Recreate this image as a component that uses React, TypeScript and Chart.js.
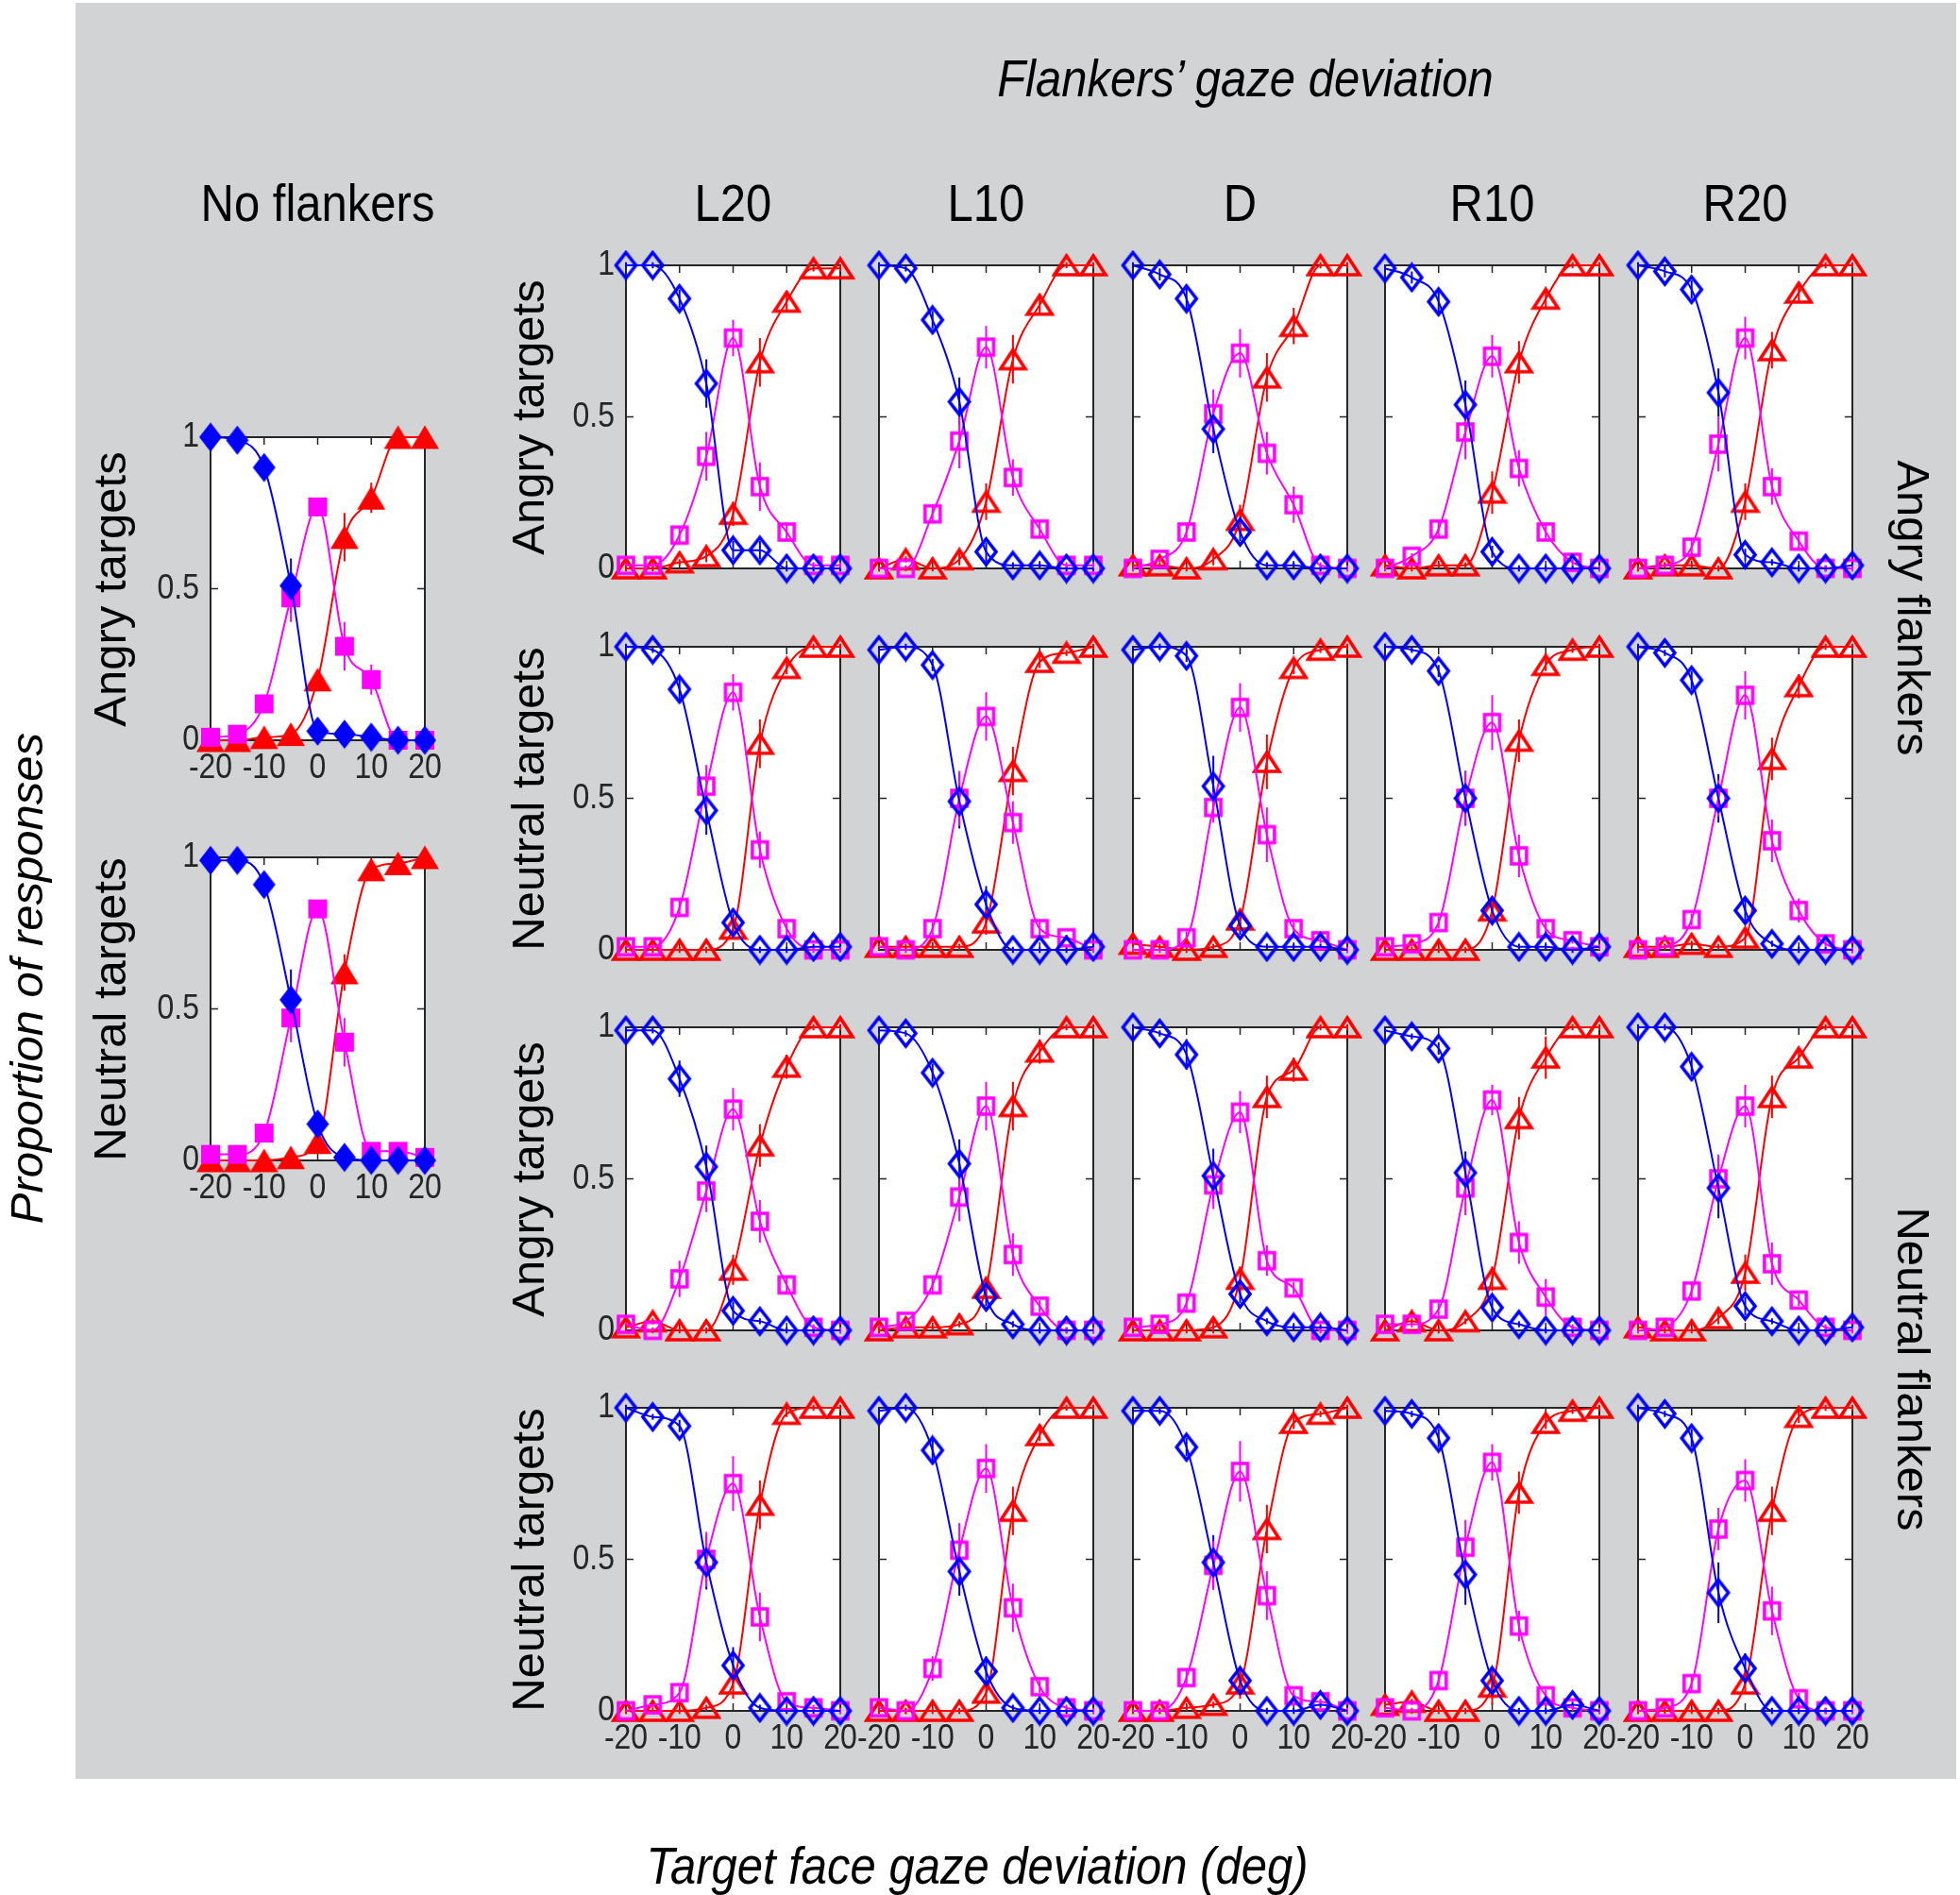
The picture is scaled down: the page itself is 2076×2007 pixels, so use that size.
import React, { useEffect, useRef } from 'react';
import { Chart, registerables } from 'chart.js';

Chart.register(...registerables);

const FONT = '"Liberation Sans", Arial, Helvetica, sans-serif';
const INK = '#262626';
const BLUE = '#0000FF';
const MAGENTA = '#FF00FF';
const RED = '#FF0000';

// target gaze deviation (deg) for every point
const gazeDeg = [-20, -15, -10, -5, 0, 5, 10, 15, 20];
const xTickValues = [-20, -10, 0, 10, 20];
const yTickValues = [0, 0.5, 1];
const flankerGaze = ['L20', 'L10', 'D', 'R10', 'R20'];

// --- no flankers: proportion of "left" (blue), "direct" (magenta), "right" (red) responses
const noFlkAngryLeft = [1.0, 0.99, 0.9, 0.51, 0.03, 0.02, 0.01, 0, 0];
const noFlkAngryDirect = [0.01, 0.02, 0.12, 0.47, 0.77, 0.31, 0.2, 0, 0];
const noFlkAngryRight = [0, 0, 0.01, 0.02, 0.2, 0.67, 0.8, 1.0, 1.0];
const noFlkAngryLeftErr = [0.01, 0.01, 0.02, 0.09, 0.01, 0.01, 0.01, 0.01, 0.01];
const noFlkAngryDirectErr = [0.01, 0.01, 0.03, 0.08, 0.03, 0.08, 0.05, 0.01, 0.01];
const noFlkAngryRightErr = [0.01, 0.01, 0.01, 0.01, 0.03, 0.08, 0.05, 0.01, 0.01];

const noFlkNeutralLeft = [0.99, 0.99, 0.91, 0.53, 0.12, 0.01, 0, 0, 0];
const noFlkNeutralDirect = [0.02, 0.02, 0.09, 0.47, 0.83, 0.39, 0.03, 0.03, 0.01];
const noFlkNeutralRight = [0, 0, 0, 0.01, 0.06, 0.62, 0.96, 0.98, 1.0];
const noFlkNeutralLeftErr = [0.01, 0.01, 0.02, 0.1, 0.02, 0.01, 0.01, 0.01, 0.01];
const noFlkNeutralDirectErr = [0.01, 0.01, 0.02, 0.08, 0.03, 0.08, 0.01, 0.01, 0.01];
const noFlkNeutralRightErr = [0.01, 0.01, 0.01, 0.01, 0.02, 0.06, 0.01, 0.01, 0.01];

// --- angry flankers, angry targets (one row per flanker gaze L20..R20)
const angryAngryLeft = [
  [1.0, 1.0, 0.89, 0.61, 0.06, 0.06, 0, 0, 0],
  [1.0, 0.99, 0.82, 0.55, 0.055, 0.01, 0.01, 0, 0],
  [1.0, 0.97, 0.89, 0.46, 0.12, 0.01, 0.01, 0, 0],
  [0.99, 0.96, 0.88, 0.54, 0.055, 0, 0, 0, 0],
  [1.0, 0.98, 0.92, 0.58, 0.045, 0.02, 0, 0, 0.01],
];
const angryAngryDirect = [
  [0.01, 0.01, 0.11, 0.37, 0.76, 0.27, 0.12, 0.01, 0.01],
  [0, 0, 0.18, 0.42, 0.73, 0.3, 0.13, 0.01, 0.01],
  [0, 0.03, 0.12, 0.51, 0.71, 0.38, 0.21, 0.01, 0],
  [0, 0.04, 0.13, 0.45, 0.7, 0.33, 0.12, 0.02, 0],
  [0, 0.01, 0.07, 0.41, 0.76, 0.27, 0.09, 0, 0],
];
const angryAngryRight = [
  [0, 0, 0.02, 0.04, 0.18, 0.68, 0.88, 0.99, 0.99],
  [0, 0.03, 0, 0.03, 0.22, 0.69, 0.87, 1.0, 1.0],
  [0.01, 0.01, 0, 0.03, 0.16, 0.63, 0.8, 1.0, 1.0],
  [0.01, 0, 0.01, 0.01, 0.25, 0.68, 0.89, 1.0, 1.0],
  [0, 0.01, 0.01, 0, 0.22, 0.72, 0.91, 1.0, 1.0],
];
const angryAngryLeftErr = [
  [0.01, 0.01, 0.03, 0.08, 0.03, 0.03, 0.01, 0.01, 0.01],
  [0.01, 0.01, 0.03, 0.08, 0.03, 0.01, 0.01, 0.01, 0.01],
  [0.01, 0.02, 0.04, 0.08, 0.03, 0.01, 0.01, 0.01, 0.01],
  [0.01, 0.02, 0.04, 0.08, 0.02, 0.01, 0.01, 0.01, 0.01],
  [0.01, 0.02, 0.03, 0.08, 0.02, 0.01, 0.01, 0.01, 0.01],
];
const angryAngryDirectErr = [
  [0.01, 0.01, 0.03, 0.08, 0.06, 0.08, 0.03, 0.01, 0.01],
  [0.01, 0.01, 0.03, 0.09, 0.07, 0.06, 0.03, 0.01, 0.01],
  [0.01, 0.01, 0.03, 0.08, 0.08, 0.07, 0.06, 0.01, 0.01],
  [0.01, 0.01, 0.03, 0.09, 0.07, 0.06, 0.03, 0.01, 0.01],
  [0.01, 0.01, 0.03, 0.09, 0.07, 0.06, 0.03, 0.01, 0.01],
];
const angryAngryRightErr = [
  [0.01, 0.01, 0.01, 0.02, 0.04, 0.08, 0.03, 0.01, 0.01],
  [0.01, 0.01, 0.01, 0.02, 0.06, 0.08, 0.03, 0.01, 0.01],
  [0.01, 0.01, 0.01, 0.02, 0.05, 0.08, 0.06, 0.01, 0.01],
  [0.01, 0.01, 0.01, 0.01, 0.07, 0.07, 0.03, 0.01, 0.01],
  [0.01, 0.01, 0.01, 0.01, 0.06, 0.06, 0.03, 0.01, 0.01],
];

// --- angry flankers, neutral targets
const angryNeutralLeft = [
  [1.0, 0.99, 0.86, 0.46, 0.09, 0, 0, 0.01, 0.01],
  [0.99, 1.0, 0.94, 0.49, 0.15, 0, 0, 0, 0.01],
  [0.99, 1.0, 0.97, 0.54, 0.08, 0.01, 0.01, 0.01, 0],
  [1.0, 0.99, 0.92, 0.5, 0.13, 0.01, 0.01, 0, 0.01],
  [1.0, 0.98, 0.89, 0.5, 0.13, 0.02, 0, 0, 0],
];
const angryNeutralDirect = [
  [0.01, 0.01, 0.14, 0.54, 0.85, 0.33, 0.07, 0, 0],
  [0.01, 0, 0.07, 0.5, 0.77, 0.42, 0.07, 0.04, 0],
  [0, 0, 0.04, 0.47, 0.8, 0.38, 0.07, 0.03, 0],
  [0.01, 0.02, 0.09, 0.5, 0.75, 0.31, 0.07, 0.03, 0.01],
  [0, 0.01, 0.1, 0.5, 0.84, 0.36, 0.13, 0.02, 0],
];
const angryNeutralRight = [
  [0, 0, 0, 0, 0.07, 0.68, 0.93, 1.0, 1.0],
  [0.01, 0.01, 0.01, 0.01, 0.09, 0.59, 0.95, 0.98, 1.0],
  [0.02, 0.01, 0, 0.01, 0.1, 0.62, 0.93, 0.99, 1.0],
  [0, 0, 0, 0, 0.13, 0.69, 0.94, 0.99, 1.0],
  [0.01, 0.01, 0.02, 0.01, 0.04, 0.63, 0.87, 1.0, 1.0],
];
const angryNeutralLeftErr = [
  [0.01, 0.01, 0.04, 0.08, 0.03, 0.01, 0.01, 0.01, 0.01],
  [0.01, 0.01, 0.02, 0.09, 0.06, 0.01, 0.01, 0.01, 0.01],
  [0.01, 0.01, 0.02, 0.1, 0.03, 0.01, 0.01, 0.01, 0.01],
  [0.01, 0.01, 0.02, 0.09, 0.04, 0.01, 0.01, 0.01, 0.01],
  [0.01, 0.01, 0.03, 0.08, 0.04, 0.01, 0.01, 0.01, 0.01],
];
const angryNeutralDirectErr = [
  [0.01, 0.01, 0.03, 0.07, 0.06, 0.06, 0.02, 0.01, 0.01],
  [0.01, 0.01, 0.02, 0.09, 0.08, 0.07, 0.02, 0.01, 0.01],
  [0.01, 0.01, 0.02, 0.05, 0.08, 0.09, 0.02, 0.01, 0.01],
  [0.01, 0.01, 0.02, 0.09, 0.09, 0.07, 0.02, 0.01, 0.01],
  [0.01, 0.01, 0.02, 0.06, 0.08, 0.07, 0.04, 0.01, 0.01],
];
const angryNeutralRightErr = [
  [0.01, 0.01, 0.01, 0.01, 0.03, 0.08, 0.02, 0.01, 0.01],
  [0.01, 0.01, 0.01, 0.01, 0.04, 0.08, 0.02, 0.01, 0.01],
  [0.01, 0.01, 0.01, 0.01, 0.03, 0.09, 0.02, 0.01, 0.01],
  [0.01, 0.01, 0.01, 0.01, 0.03, 0.07, 0.02, 0.01, 0.01],
  [0.01, 0.01, 0.01, 0.01, 0.02, 0.07, 0.04, 0.01, 0.01],
];

// --- neutral flankers, angry targets
const neutralAngryLeft = [
  [0.99, 0.99, 0.83, 0.54, 0.065, 0.03, 0, 0, 0],
  [0.99, 0.98, 0.85, 0.55, 0.11, 0.02, 0, 0, 0],
  [1.0, 0.98, 0.91, 0.51, 0.12, 0.03, 0.01, 0.01, 0],
  [0.99, 0.97, 0.93, 0.52, 0.075, 0.02, 0, 0, 0],
  [1.0, 1.0, 0.87, 0.47, 0.08, 0.03, 0, 0, 0.01],
];
const neutralAngryDirect = [
  [0.02, 0, 0.17, 0.46, 0.73, 0.36, 0.15, 0.01, 0],
  [0.01, 0.03, 0.15, 0.44, 0.74, 0.25, 0.08, 0, 0],
  [0.01, 0.02, 0.09, 0.48, 0.72, 0.23, 0.14, 0, 0],
  [0.02, 0.02, 0.07, 0.47, 0.76, 0.29, 0.11, 0.01, 0],
  [0, 0.01, 0.13, 0.5, 0.74, 0.22, 0.1, 0.01, 0],
];
const neutralAngryRight = [
  [0.01, 0.03, 0, 0, 0.2, 0.61, 0.87, 1.0, 1.0],
  [0, 0.01, 0.01, 0.02, 0.14, 0.74, 0.92, 1.0, 1.0],
  [0, 0, 0, 0.01, 0.17, 0.77, 0.86, 1.0, 1.0],
  [0, 0.03, 0, 0.03, 0.17, 0.7, 0.9, 1.0, 1.0],
  [0.01, 0, 0, 0.04, 0.19, 0.77, 0.9, 1.0, 1.0],
];
const neutralAngryLeftErr = [
  [0.01, 0.01, 0.06, 0.07, 0.03, 0.01, 0.01, 0.01, 0.01],
  [0.01, 0.01, 0.03, 0.08, 0.03, 0.01, 0.01, 0.01, 0.01],
  [0.01, 0.01, 0.05, 0.09, 0.03, 0.01, 0.01, 0.01, 0.01],
  [0.01, 0.01, 0.02, 0.07, 0.03, 0.01, 0.01, 0.01, 0.01],
  [0.01, 0.01, 0.03, 0.1, 0.03, 0.01, 0.01, 0.01, 0.01],
];
const neutralAngryDirectErr = [
  [0.01, 0.01, 0.06, 0.07, 0.07, 0.07, 0.03, 0.01, 0.01],
  [0.01, 0.01, 0.03, 0.08, 0.08, 0.07, 0.02, 0.01, 0.01],
  [0.01, 0.01, 0.03, 0.08, 0.07, 0.05, 0.02, 0.01, 0.01],
  [0.01, 0.01, 0.02, 0.09, 0.05, 0.07, 0.06, 0.01, 0.01],
  [0.01, 0.01, 0.03, 0.08, 0.07, 0.07, 0.02, 0.01, 0.01],
];
const neutralAngryRightErr = [
  [0.01, 0.01, 0.01, 0.01, 0.05, 0.07, 0.04, 0.01, 0.01],
  [0.01, 0.01, 0.01, 0.01, 0.03, 0.08, 0.04, 0.01, 0.01],
  [0.01, 0.01, 0.01, 0.02, 0.04, 0.07, 0.04, 0.01, 0.01],
  [0.01, 0.01, 0.01, 0.01, 0.04, 0.07, 0.07, 0.01, 0.01],
  [0.01, 0.01, 0.01, 0.02, 0.06, 0.07, 0.03, 0.01, 0.01],
];

// --- neutral flankers, neutral targets
const neutralNeutralLeft = [
  [1.0, 0.97, 0.94, 0.49, 0.15, 0.01, 0, 0, 0],
  [0.99, 1.0, 0.86, 0.46, 0.13, 0.01, 0, 0, 0],
  [0.99, 0.99, 0.87, 0.49, 0.1, 0, 0, 0.02, 0],
  [0.99, 0.98, 0.9, 0.45, 0.1, 0, 0, 0.02, 0],
  [1.0, 0.98, 0.9, 0.39, 0.14, 0, 0, 0, 0],
];
const neutralNeutralDirect = [
  [0, 0.02, 0.06, 0.5, 0.75, 0.31, 0.03, 0.01, 0],
  [0.01, 0, 0.14, 0.53, 0.8, 0.34, 0.08, 0.01, 0],
  [0, 0, 0.11, 0.48, 0.79, 0.38, 0.05, 0.03, 0],
  [0.01, 0, 0.1, 0.54, 0.82, 0.28, 0.05, 0.01, 0],
  [0, 0.01, 0.09, 0.6, 0.76, 0.33, 0.04, 0, 0],
];
const neutralNeutralRight = [
  [0, 0, 0, 0.01, 0.09, 0.68, 0.98, 1.0, 1.0],
  [0, 0, 0, 0, 0.06, 0.66, 0.91, 1.0, 1.0],
  [0, 0, 0.01, 0.02, 0.09, 0.6, 0.95, 0.98, 1.0],
  [0.02, 0.03, 0, 0, 0.08, 0.72, 0.95, 0.99, 1.0],
  [0, 0, 0, 0, 0.09, 0.66, 0.97, 1.0, 1.0],
];
const neutralNeutralLeftErr = [
  [0.01, 0.01, 0.02, 0.09, 0.06, 0.01, 0.01, 0.01, 0.01],
  [0.01, 0.01, 0.04, 0.08, 0.05, 0.01, 0.01, 0.01, 0.01],
  [0.01, 0.01, 0.03, 0.09, 0.04, 0.01, 0.01, 0.01, 0.01],
  [0.01, 0.01, 0.03, 0.1, 0.03, 0.01, 0.01, 0.01, 0.01],
  [0.01, 0.01, 0.03, 0.1, 0.05, 0.01, 0.01, 0.01, 0.01],
];
const neutralNeutralDirectErr = [
  [0.01, 0.01, 0.02, 0.09, 0.09, 0.08, 0.01, 0.01, 0.01],
  [0.01, 0.01, 0.04, 0.09, 0.08, 0.08, 0.02, 0.01, 0.01],
  [0.01, 0.01, 0.03, 0.08, 0.1, 0.08, 0.02, 0.01, 0.01],
  [0.01, 0.01, 0.03, 0.09, 0.06, 0.05, 0.02, 0.01, 0.01],
  [0.01, 0.01, 0.03, 0.07, 0.07, 0.08, 0.02, 0.01, 0.01],
];
const neutralNeutralRightErr = [
  [0.01, 0.01, 0.01, 0.01, 0.05, 0.08, 0.01, 0.01, 0.01],
  [0.01, 0.01, 0.01, 0.01, 0.03, 0.08, 0.02, 0.01, 0.01],
  [0.01, 0.01, 0.01, 0.01, 0.05, 0.08, 0.02, 0.01, 0.01],
  [0.01, 0.01, 0.01, 0.01, 0.06, 0.07, 0.02, 0.01, 0.01],
  [0.01, 0.01, 0.01, 0.01, 0.03, 0.08, 0.02, 0.01, 0.01],
];

// panel geometry (px)
const BOX_W = 227;
const BOX_H = 321;
const PAD_L = 90;
const PAD_R = 30;
const PAD_T = 30;
const PAD_B = 30;
const PAD_B_TICKS = 70;
const TICK_LEN = 8;
const TICK_FONT = 32;
const TEXT_STRETCH = 1.15; // the printed figure is stretched vertically

const colLefts = [663, 931, 1200, 1467, 1735];
const rowTops = [281, 685, 1088, 1491];
const noFlkLeft = 223;
const noFlkTops = [463, 908];

type Shape = 'diamond' | 'square' | 'triangle';

function makeMarker(shape: Shape, color: string, filled: boolean, w: number, h: number, lw: number) {
  const c = document.createElement('canvas');
  c.width = Math.ceil(w + lw + 2);
  c.height = Math.ceil(h + lw + 2);
  const g = c.getContext('2d')!;
  const cx = c.width / 2;
  const cy = c.height / 2;
  g.beginPath();
  if (shape === 'diamond') {
    g.moveTo(cx, cy - h / 2);
    g.lineTo(cx + w / 2, cy);
    g.lineTo(cx, cy + h / 2);
    g.lineTo(cx - w / 2, cy);
  } else if (shape === 'square') {
    g.rect(cx - w / 2, cy - h / 2, w, h);
  } else {
    g.moveTo(cx, cy - h / 2);
    g.lineTo(cx + w / 2, cy + h / 2);
    g.lineTo(cx - w / 2, cy + h / 2);
  }
  g.closePath();
  if (filled) {
    g.fillStyle = color;
    g.fill();
  } else {
    g.strokeStyle = color;
    g.lineWidth = lw;
    g.lineJoin = 'miter';
    g.stroke();
  }
  return c;
}

type PanelProps = {
  left: number;
  top: number;
  leftResp: number[];
  directResp: number[];
  rightResp: number[];
  leftErr: number[];
  directErr: number[];
  rightErr: number[];
  filled: boolean;
  showX: boolean;
  showY: boolean;
};

const Panel: React.FC<PanelProps> = (p) => {
  const canvasRef = useRef<HTMLCanvasElement | null>(null);
  const padB = p.showX ? PAD_B_TICKS : PAD_B;
  const width = BOX_W + PAD_L + PAD_R;
  const height = BOX_H + PAD_T + padB;

  useEffect(() => {
    if (!canvasRef.current) return;

    const markers = p.filled
      ? [
          makeMarker('diamond', BLUE, true, 24, 31, 0),
          makeMarker('square', MAGENTA, true, 20, 20, 0),
          makeMarker('triangle', RED, true, 30, 25, 0),
        ]
      : [
          makeMarker('diamond', BLUE, false, 21, 27, 3.6),
          makeMarker('square', MAGENTA, false, 16, 17, 3.6),
          makeMarker('triangle', RED, false, 26, 20, 3.6),
        ];
    const values = [p.leftResp, p.directResp, p.rightResp];
    const errors = [p.leftErr, p.directErr, p.rightErr];
    const colors = [BLUE, MAGENTA, RED];

    const stretchedText = (ctx: CanvasRenderingContext2D, text: string, x: number, y: number) => {
      ctx.save();
      ctx.translate(x, y);
      ctx.scale(1, TEXT_STRETCH);
      ctx.fillText(text, 0, 0);
      ctx.restore();
    };

    const frame = {
      id: 'panelFrame',
      beforeDatasetsDraw(chart: any) {
        const { ctx, chartArea: a, scales } = chart;
        ctx.save();
        ctx.fillStyle = '#ffffff';
        ctx.fillRect(a.left, a.top, a.right - a.left, a.bottom - a.top);
        ctx.strokeStyle = INK;
        ctx.lineWidth = 2;
        ctx.strokeRect(a.left, a.top, a.right - a.left, a.bottom - a.top);
        ctx.lineWidth = 1.5;
        ctx.beginPath();
        xTickValues.slice(1, -1).forEach((v) => {
          const px = scales.x.getPixelForValue(v);
          ctx.moveTo(px, a.bottom);
          ctx.lineTo(px, a.bottom - TICK_LEN);
          ctx.moveTo(px, a.top);
          ctx.lineTo(px, a.top + TICK_LEN);
        });
        yTickValues.slice(1, -1).forEach((v) => {
          const py = scales.y.getPixelForValue(v);
          ctx.moveTo(a.left, py);
          ctx.lineTo(a.left + TICK_LEN, py);
          ctx.moveTo(a.right, py);
          ctx.lineTo(a.right - TICK_LEN, py);
        });
        ctx.stroke();

        // tick labels
        ctx.fillStyle = INK;
        ctx.font = `${TICK_FONT}px ${FONT}`;
        ctx.textBaseline = 'middle';
        if (p.showY) {
          ctx.textAlign = 'right';
          yTickValues.forEach((v) => stretchedText(ctx, String(v), a.left - 12, scales.y.getPixelForValue(v)));
        }
        if (p.showX) {
          ctx.textAlign = 'center';
          xTickValues.forEach((v) => stretchedText(ctx, String(v), scales.x.getPixelForValue(v), a.bottom + 30));
        }

        // vertical error bars
        ctx.lineWidth = 2;
        errors.forEach((errs, s) => {
          ctx.strokeStyle = colors[s];
          ctx.beginPath();
          gazeDeg.forEach((x, i) => {
            const px = scales.x.getPixelForValue(x);
            ctx.moveTo(px, scales.y.getPixelForValue(values[s][i] - errs[i]));
            ctx.lineTo(px, scales.y.getPixelForValue(values[s][i] + errs[i]));
          });
          ctx.stroke();
        });
        ctx.restore();
      },
    };

    const chart = new Chart(canvasRef.current, {
      type: 'line',
      data: {
        datasets: values.map((vals, s) => ({
          data: gazeDeg.map((x, i) => ({ x, y: vals[i] })),
          borderColor: colors[s],
          backgroundColor: colors[s],
          borderWidth: 2,
          pointStyle: markers[s] as any,
          pointRadius: 10,
          pointHoverRadius: 10,
          cubicInterpolationMode: 'monotone' as const,
          clip: false as any,
          fill: false,
        })),
      },
      options: {
        responsive: false,
        animation: false,
        events: [],
        layout: { padding: { left: 0, right: PAD_R, top: PAD_T, bottom: 0 } },
        plugins: { legend: { display: false }, tooltip: { enabled: false } },
        scales: {
          x: {
            type: 'linear',
            min: -20,
            max: 20,
            afterBuildTicks: (s: any) => {
              s.ticks = xTickValues.map((v) => ({ value: v }));
            },
            afterFit: (s: any) => {
              s.height = padB;
            },
            ticks: { display: false },
            grid: { display: false, drawTicks: false },
            border: { display: false },
          },
          y: {
            type: 'linear',
            min: 0,
            max: 1,
            afterBuildTicks: (s: any) => {
              s.ticks = yTickValues.map((v) => ({ value: v }));
            },
            afterFit: (s: any) => {
              s.width = PAD_L;
            },
            ticks: { display: false },
            grid: { display: false, drawTicks: false },
            border: { display: false },
          },
        },
      },
      plugins: [frame],
    });

    return () => {
      chart.destroy();
    };
  }, [p]);

  return (
    <canvas
      ref={canvasRef}
      width={width}
      height={height}
      style={{ position: 'absolute', left: p.left - PAD_L, top: p.top - PAD_T, width, height }}
    />
  );
};

type LabelProps = { x: number; y: number; text: string; rotate?: number; italic?: boolean };

const Label: React.FC<LabelProps> = ({ x, y, text, rotate = 0, italic = false }) => (
  <div
    style={{
      position: 'absolute',
      left: x,
      top: y,
      transform: rotate
        ? `translate(-50%, -50%) rotate(${rotate}deg)`
        : `translate(-50%, -50%) scaleY(1.12)`,
      whiteSpace: 'nowrap',
      fontSize: 49,
      lineHeight: 1,
      fontStyle: italic ? 'italic' : 'normal',
      color: '#000',
    }}
  >
    {text}
  </div>
);

const gridRows = [
  { name: 'Angry targets', left: angryAngryLeft, direct: angryAngryDirect, right: angryAngryRight, le: angryAngryLeftErr, de: angryAngryDirectErr, re: angryAngryRightErr },
  { name: 'Neutral targets', left: angryNeutralLeft, direct: angryNeutralDirect, right: angryNeutralRight, le: angryNeutralLeftErr, de: angryNeutralDirectErr, re: angryNeutralRightErr },
  { name: 'Angry targets', left: neutralAngryLeft, direct: neutralAngryDirect, right: neutralAngryRight, le: neutralAngryLeftErr, de: neutralAngryDirectErr, re: neutralAngryRightErr },
  { name: 'Neutral targets', left: neutralNeutralLeft, direct: neutralNeutralDirect, right: neutralNeutralRight, le: neutralNeutralLeftErr, de: neutralNeutralDirectErr, re: neutralNeutralRightErr },
];

export default function App() {
  return (
    <div
      style={{
        position: 'absolute',
        left: 0,
        top: 0,
        width: 2076,
        height: 2007,
        background: '#ffffff',
        overflow: 'hidden',
        fontFamily: FONT,
      }}
    >
      <div style={{ position: 'absolute', left: 80, top: 3, width: 1992, height: 1881, background: '#D1D3D4' }} />

      <Label x={1319} y={84} text="Flankers’ gaze deviation" italic />
      <Label x={noFlkLeft + BOX_W / 2} y={216} text="No flankers" />
      {flankerGaze.map((g, c) => (
        <Label key={g} x={colLefts[c] + BOX_W / 2} y={216} text={g} />
      ))}

      <Label x={116} y={noFlkTops[0] + BOX_H / 2} text="Angry targets" rotate={-90} />
      <Label x={116} y={noFlkTops[1] + BOX_H / 2} text="Neutral targets" rotate={-90} />
      {gridRows.map((r, i) => (
        <Label key={i} x={559} y={rowTops[i] + BOX_H / 2} text={r.name} rotate={-90} />
      ))}

      <Label x={28} y={1036} text="Proportion of responses" rotate={-90} italic />
      <Label x={2026} y={(rowTops[0] + rowTops[1] + BOX_H) / 2} text="Angry flankers" rotate={90} />
      <Label x={2026} y={(rowTops[2] + rowTops[3] + BOX_H) / 2} text="Neutral flankers" rotate={90} />
      <Label x={1035} y={1977} text="Target face gaze deviation (deg)" italic />

      <Panel
        left={noFlkLeft}
        top={noFlkTops[0]}
        leftResp={noFlkAngryLeft}
        directResp={noFlkAngryDirect}
        rightResp={noFlkAngryRight}
        leftErr={noFlkAngryLeftErr}
        directErr={noFlkAngryDirectErr}
        rightErr={noFlkAngryRightErr}
        filled
        showX
        showY
      />
      <Panel
        left={noFlkLeft}
        top={noFlkTops[1]}
        leftResp={noFlkNeutralLeft}
        directResp={noFlkNeutralDirect}
        rightResp={noFlkNeutralRight}
        leftErr={noFlkNeutralLeftErr}
        directErr={noFlkNeutralDirectErr}
        rightErr={noFlkNeutralRightErr}
        filled
        showX
        showY
      />

      {gridRows.map((r, ri) =>
        flankerGaze.map((g, ci) => (
          <Panel
            key={`${ri}-${g}`}
            left={colLefts[ci]}
            top={rowTops[ri]}
            leftResp={r.left[ci]}
            directResp={r.direct[ci]}
            rightResp={r.right[ci]}
            leftErr={r.le[ci]}
            directErr={r.de[ci]}
            rightErr={r.re[ci]}
            filled={false}
            showX={ri === gridRows.length - 1}
            showY={ci === 0}
          />
        ))
      )}
    </div>
  );
}
